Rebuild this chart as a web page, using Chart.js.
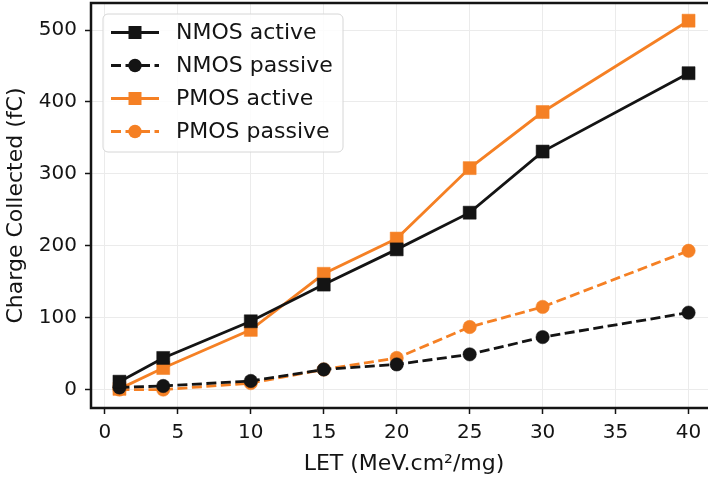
<!DOCTYPE html>
<html>
<head>
<meta charset="utf-8">
<script src="https://cdn.jsdelivr.net/npm/chart.js@4"></script>
<style>
  html, body { margin: 0; padding: 0; background: #fff; overflow: hidden; }
  #wrap { width: 720px; height: 480px; }
</style>
</head>
<body>
<div id="wrap"><canvas id="mixed-chart" width="720" height="480"></canvas></div>
<script>
// LET values (x) and collected charge per device/mode
const let_values = [1, 4, 10, 15, 20, 25, 30, 40];
const nmos_active = [11, 44, 95, 146, 195, 246, 331, 440];
const nmos_passive = [3, 5, 12, 28, 35, 49, 73, 107];
const pmos_active = [1, 30, 83, 161, 210, 308, 386, 513];
const pmos_passive = [0, 0, 9, 28, 44, 87, 115, 193];
const x_ticks = [0, 5, 10, 15, 20, 25, 30, 35, 40];
const y_ticks = [0, 100, 200, 300, 400, 500];

const BLACK = '#141414';
const ORANGE = '#f58024';
const FONT = 'DejaVu Sans';

function pts(ys) {
    return let_values.map((x, i) => ({ x: x, y: ys[i] }));
}

function series(label, ys, color, dashed, marker) {
    return {
        label: label,
        data: pts(ys),
        borderColor: color,
        backgroundColor: color,
        borderWidth: 2.8,
        borderDash: dashed ? [10, 4.5] : [],
        pointStyle: marker,
        pointRadius: marker === 'rect' ? 9.2 : 6.7,
        pointBorderWidth: 0.5,
        pointBorderColor: color,
        fill: false,
        tension: 0
    };
}

function noPad(s) {
    s.paddingTop = 0; s.paddingBottom = 0;
    s.paddingLeft = 0; s.paddingRight = 0;
}

// frame + legend box, drawn on top like matplotlib
const framePlugin = {
    id: 'frame',
    afterDraw(chart) {
        const ctx = chart.ctx;
        const a = chart.chartArea;
        ctx.save();
        ctx.strokeStyle = BLACK;
        ctx.lineWidth = 2.5;
        ctx.strokeRect(a.left, a.top, a.right - a.left, a.bottom - a.top);

        // legend
        const bx = 103, by = 14, bw = 240, bh = 138, r = 5;
        ctx.beginPath();
        ctx.moveTo(bx + r, by);
        ctx.arcTo(bx + bw, by, bx + bw, by + bh, r);
        ctx.arcTo(bx + bw, by + bh, bx, by + bh, r);
        ctx.arcTo(bx, by + bh, bx, by, r);
        ctx.arcTo(bx, by, bx + bw, by, r);
        ctx.closePath();
        ctx.fillStyle = 'rgba(255,255,255,0.85)';
        ctx.fill();
        ctx.strokeStyle = '#d6d6d6';
        ctx.lineWidth = 1;
        ctx.stroke();

        ctx.font = '22px "' + FONT + '"';
        ctx.textBaseline = 'middle';
        ctx.textAlign = 'left';
        chart.data.datasets.forEach((ds, i) => {
            const y = 32.5 + i * 33;
            ctx.beginPath();
            ctx.setLineDash(ds.borderDash);
            ctx.strokeStyle = ds.borderColor;
            ctx.lineWidth = ds.borderWidth;
            ctx.moveTo(111, y);
            ctx.lineTo(159, y);
            ctx.stroke();
            ctx.setLineDash([]);
            ctx.fillStyle = ds.borderColor;
            ctx.beginPath();
            if (ds.pointStyle === 'rect') {
                ctx.rect(135 - 6.5, y - 6.5, 13, 13);
            } else {
                ctx.arc(135, y, 6.7, 0, Math.PI * 2);
            }
            ctx.fill();
            ctx.fillStyle = BLACK;
            ctx.fillText(ds.label, 176, y + 1);
        });
        ctx.restore();
    }
};

const ctx = document.getElementById('mixed-chart').getContext('2d');
const myChart = new Chart(ctx, {
    type: 'line',
    data: {
        datasets: [
            series('NMOS active', nmos_active, BLACK, false, 'rect'),
            series('NMOS passive', nmos_passive, BLACK, true, 'circle'),
            series('PMOS active', pmos_active, ORANGE, false, 'rect'),
            series('PMOS passive', pmos_passive, ORANGE, true, 'circle')
        ]
    },
    options: {
        responsive: false,
        animation: false,
        layout: { autoPadding: false, padding: { top: 3, right: 3, left: 0, bottom: 0 } },
        plugins: {
            legend: { display: false },
            tooltip: { enabled: false }
        },
        scales: {
            x: {
                type: 'linear',
                min: -0.95,
                max: 41.95,
                afterBuildTicks: s => { s.ticks = x_ticks.map(v => ({ value: v })); },
                afterFit: s => { s.height = 72; noPad(s); },
                grid: { color: '#ebebeb', lineWidth: 1, tickColor: BLACK, tickLength: 6, tickWidth: 1.5 },
                border: { display: false },
                ticks: { color: BLACK, font: { family: FONT, size: 20 }, padding: 7, maxRotation: 0 },
                title: {
                    display: true,
                    text: 'LET (MeV.cm²/mg)',
                    color: BLACK,
                    font: { family: FONT, size: 22 },
                    padding: { top: 0, bottom: 3 }
                }
            },
            y: {
                min: -25.6,
                max: 537.6,
                afterBuildTicks: s => { s.ticks = y_ticks.map(v => ({ value: v })); },
                afterFit: s => { s.width = 91; noPad(s); },
                grid: { color: '#ebebeb', lineWidth: 1, tickColor: BLACK, tickLength: 6, tickWidth: 1.5 },
                border: { display: false },
                ticks: { color: BLACK, font: { family: FONT, size: 20 }, padding: 8 },
                title: {
                    display: true,
                    text: 'Charge Collected (fC)',
                    color: BLACK,
                    font: { family: FONT, size: 22 },
                    padding: { top: 3, bottom: 0 }
                }
            }
        }
    },
    plugins: [framePlugin]
});
</script>
</body>
</html>
